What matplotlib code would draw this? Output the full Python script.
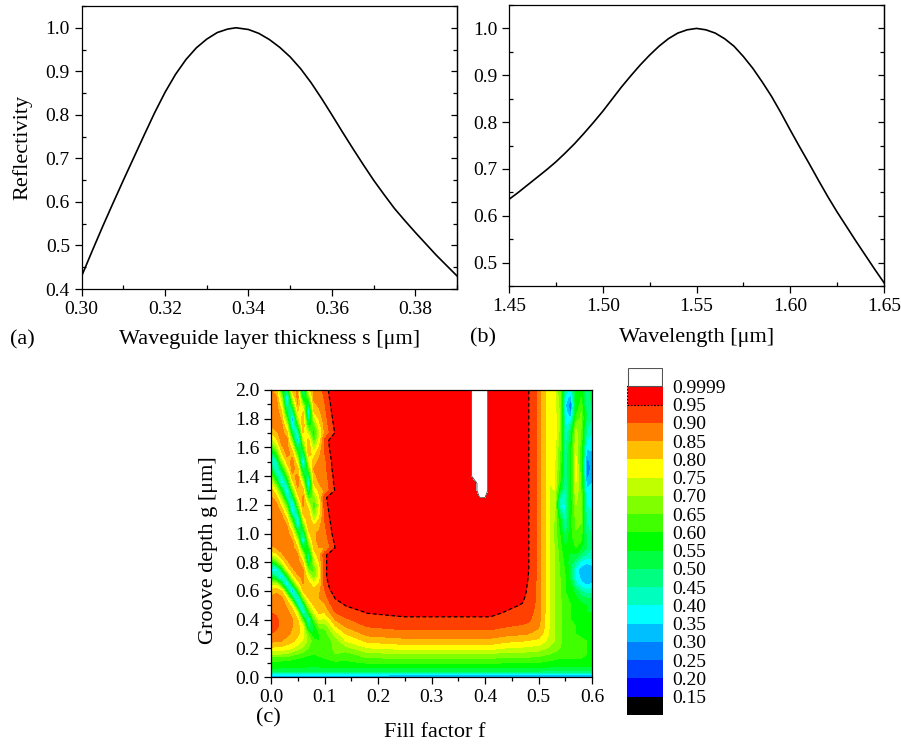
import numpy as np
import matplotlib
matplotlib.use("Agg")
import matplotlib.pyplot as plt
from matplotlib.ticker import MultipleLocator, FormatStrFormatter

plt.rcParams["font.family"] = ["Liberation Serif", "DejaVu Serif"]

# ─── (a) reflectivity vs waveguide layer thickness ─────────────
S_UM = [0.3000, 0.3025, 0.3050, 0.3075, 0.3100, 0.3125, 0.3150, 0.3175, 0.3200, 0.3225,
        0.3250, 0.3275, 0.3300, 0.3325, 0.3350, 0.3370, 0.3400, 0.3425, 0.3450, 0.3475,
        0.3500, 0.3525, 0.3550, 0.3575, 0.3600, 0.3625, 0.3650, 0.3675, 0.3700, 0.3725,
        0.3750, 0.3775, 0.3800, 0.3825, 0.3850, 0.3875, 0.3900]
R_S = [0.430, 0.487, 0.543, 0.597, 0.650, 0.702, 0.754, 0.805, 0.852, 0.893,
       0.927, 0.954, 0.974, 0.989, 0.997, 1.000, 0.996, 0.987, 0.973, 0.955,
       0.933, 0.906, 0.874, 0.838, 0.800, 0.761, 0.723, 0.686, 0.650, 0.617,
       0.585, 0.557, 0.530, 0.504, 0.478, 0.454, 0.430]

# ─── (b) reflectivity vs wavelength ────────────────────────────
WL_UM = [1.450, 1.455, 1.460, 1.465, 1.470, 1.475, 1.480, 1.485, 1.490, 1.495,
         1.500, 1.505, 1.510, 1.515, 1.520, 1.525, 1.530, 1.535, 1.540, 1.545,
         1.550, 1.555, 1.560, 1.565, 1.570, 1.575, 1.580, 1.585, 1.590, 1.595,
         1.600, 1.605, 1.610, 1.615, 1.620, 1.625, 1.630, 1.635, 1.640, 1.645, 1.650]
R_WL = [0.635, 0.650, 0.666, 0.682, 0.698, 0.715, 0.734, 0.754, 0.776, 0.799,
        0.823, 0.849, 0.875, 0.899, 0.922, 0.943, 0.962, 0.978, 0.990, 0.997,
        1.000, 0.997, 0.990, 0.978, 0.962, 0.940, 0.915, 0.886, 0.855, 0.820,
        0.783, 0.747, 0.712, 0.676, 0.641, 0.608, 0.577, 0.546, 0.516, 0.486, 0.457]

# ─── (c) reflectivity map: fill factor f x groove depth g ──────
G_UM = [0.00, 0.02, 0.04, 0.07, 0.10, 0.13, 0.16, 0.20, 0.25, 0.30,
        0.35, 0.40, 0.45, 0.50, 0.55, 0.60, 0.65, 0.70, 0.75, 0.80,
        0.85, 0.90, 0.95, 1.00, 1.05, 1.10, 1.15, 1.20, 1.25, 1.30,
        1.35, 1.40, 1.45, 1.50, 1.55, 1.60, 1.65, 1.70, 1.75, 1.80,
        1.85, 1.90, 1.95, 2.00]

# each entry: one f column, g = 0 .. 0.30 then g = 0.35 .. 2.00
F_LEFT = [0.00, 0.01, 0.02, 0.03, 0.04, 0.05, 0.06, 0.07, 0.08, 0.09, 0.10, 0.11, 0.12]
R_LEFT = [
    [0.31, 0.38, 0.52, 0.57, 0.59, 0.62, 0.70, 0.79, 0.86, 0.90]
    + [0.92, 0.92, 0.90, 0.88, 0.86, 0.82, 0.72, 0.55, 0.37, 0.55, 0.75, 0.84, 0.87, 0.88, 0.88, 0.88, 0.88,
       0.87, 0.86, 0.83, 0.76, 0.66, 0.55, 0.42, 0.45, 0.60, 0.72, 0.80, 0.85, 0.87, 0.87, 0.87, 0.87, 0.86],
    [0.31, 0.38, 0.51, 0.565, 0.59, 0.625, 0.70, 0.785, 0.855, 0.89]
    + [0.905, 0.905, 0.895, 0.88, 0.87, 0.84, 0.72, 0.45, 0.35, 0.62, 0.78, 0.85, 0.87, 0.88, 0.88, 0.88, 0.875,
       0.86, 0.82, 0.74, 0.62, 0.48, 0.37, 0.42, 0.58, 0.70, 0.78, 0.84, 0.87, 0.88, 0.88, 0.87, 0.85, 0.82],
    [0.31, 0.38, 0.50, 0.56, 0.585, 0.625, 0.70, 0.78, 0.85, 0.88]
    + [0.89, 0.89, 0.885, 0.875, 0.86, 0.80, 0.55, 0.30, 0.55, 0.74, 0.84, 0.87, 0.88, 0.88, 0.88, 0.87, 0.84,
       0.78, 0.68, 0.55, 0.36, 0.38, 0.55, 0.68, 0.78, 0.84, 0.87, 0.87, 0.86, 0.84, 0.80, 0.75, 0.68, 0.58],
    [0.31, 0.38, 0.50, 0.56, 0.58, 0.62, 0.69, 0.77, 0.83, 0.86]
    + [0.87, 0.87, 0.86, 0.84, 0.78, 0.55, 0.28, 0.55, 0.76, 0.84, 0.87, 0.88, 0.88, 0.87, 0.85, 0.80, 0.72,
       0.60, 0.42, 0.32, 0.48, 0.62, 0.74, 0.82, 0.86, 0.87, 0.86, 0.82, 0.74, 0.62, 0.50, 0.35, 0.32, 0.48],
    [0.31, 0.38, 0.50, 0.56, 0.58, 0.61, 0.67, 0.75, 0.81, 0.84]
    + [0.85, 0.85, 0.83, 0.77, 0.52, 0.28, 0.58, 0.76, 0.84, 0.87, 0.88, 0.87, 0.85, 0.80, 0.72, 0.58, 0.36,
       0.30, 0.48, 0.64, 0.76, 0.84, 0.87, 0.87, 0.84, 0.76, 0.64, 0.50, 0.35, 0.28, 0.45, 0.62, 0.74, 0.82],
    [0.31, 0.38, 0.50, 0.555, 0.575, 0.60, 0.65, 0.72, 0.78, 0.81]
    + [0.82, 0.80, 0.72, 0.45, 0.30, 0.58, 0.76, 0.84, 0.87, 0.87, 0.85, 0.80, 0.72, 0.58, 0.36, 0.32, 0.50,
       0.66, 0.77, 0.84, 0.87, 0.86, 0.82, 0.74, 0.62, 0.46, 0.28, 0.38, 0.56, 0.70, 0.80, 0.85, 0.87, 0.86],
    [0.31, 0.38, 0.50, 0.555, 0.57, 0.59, 0.63, 0.69, 0.74, 0.77]
    + [0.75, 0.62, 0.32, 0.45, 0.68, 0.80, 0.85, 0.86, 0.85, 0.80, 0.70, 0.52, 0.30, 0.45, 0.62, 0.74, 0.82,
       0.86, 0.86, 0.82, 0.74, 0.60, 0.44, 0.28, 0.44, 0.60, 0.72, 0.80, 0.85, 0.85, 0.80, 0.68, 0.50, 0.32],
    [0.31, 0.38, 0.50, 0.55, 0.565, 0.58, 0.61, 0.65, 0.68, 0.64]
    + [0.48, 0.38, 0.58, 0.72, 0.80, 0.83, 0.82, 0.76, 0.64, 0.48, 0.44, 0.58, 0.70, 0.78, 0.83, 0.85, 0.83,
       0.76, 0.62, 0.46, 0.32, 0.46, 0.62, 0.74, 0.82, 0.85, 0.82, 0.72, 0.58, 0.42, 0.33, 0.48, 0.64, 0.76],
    [0.31, 0.38, 0.50, 0.55, 0.565, 0.58, 0.60, 0.63, 0.62, 0.55]
    + [0.55, 0.64, 0.74, 0.80, 0.83, 0.82, 0.76, 0.66, 0.64, 0.70, 0.76, 0.81, 0.84, 0.84, 0.80, 0.72, 0.64,
       0.60, 0.66, 0.74, 0.80, 0.84, 0.85, 0.83, 0.78, 0.70, 0.62, 0.56, 0.62, 0.72, 0.80, 0.84, 0.86, 0.86],
    [0.31, 0.38, 0.50, 0.55, 0.57, 0.59, 0.61, 0.62, 0.60, 0.60]
    + [0.66, 0.75, 0.81, 0.84, 0.85, 0.84, 0.80, 0.76, 0.76, 0.80, 0.83, 0.85, 0.86, 0.86, 0.84, 0.80, 0.76,
       0.75, 0.78, 0.82, 0.85, 0.86, 0.86, 0.86, 0.84, 0.80, 0.76, 0.74, 0.77, 0.81, 0.84, 0.86, 0.87, 0.88],
    [0.31, 0.38, 0.50, 0.555, 0.575, 0.60, 0.62, 0.63, 0.62, 0.62]
    + [0.66, 0.74, 0.80, 0.84, 0.87, 0.895, 0.915, 0.93, 0.93, 0.93, 0.93, 0.85, 0.865, 0.88, 0.89, 0.90, 0.91,
       0.92, 0.93, 0.855, 0.865, 0.87, 0.88, 0.885, 0.895, 0.905, 0.91, 0.855, 0.865, 0.875, 0.885, 0.895, 0.905, 0.915],
    [0.31, 0.38, 0.50, 0.555, 0.58, 0.61, 0.63, 0.64, 0.64, 0.67]
    + [0.72, 0.79, 0.85, 0.89, 0.92, 0.945, 0.965, 0.98, 0.98, 0.98, 0.98, 0.90, 0.915, 0.93, 0.94, 0.95, 0.96,
       0.97, 0.98, 0.905, 0.915, 0.92, 0.93, 0.935, 0.945, 0.955, 0.96, 0.905, 0.915, 0.925, 0.935, 0.945, 0.955, 0.965],
    [0.31, 0.38, 0.50, 0.56, 0.59, 0.62, 0.65, 0.66, 0.67, 0.72]
    + [0.79, 0.85, 0.90, 0.93, 0.952, 0.97, 0.985, 0.985, 0.985, 0.985, 0.985, 0.952, 0.965, 0.98, 0.985, 0.985, 0.985,
       0.985, 0.985, 0.955, 0.965, 0.97, 0.98, 0.985, 0.985, 0.985, 0.985, 0.955, 0.965, 0.975, 0.985, 0.985, 0.985, 0.985],
]

F_MID = [0.14, 0.18, 0.25, 0.33, 0.37, 0.38, 0.39, 0.40, 0.41, 0.44]
MID_LOW = [0.30, 0.37, 0.50, 0.565, 0.61, 0.65, 0.695, 0.765, 0.83, 0.88,
           0.915, 0.945, 0.958, 0.966, 0.972, 0.977, 0.98, 0.985]
R_MID = [
    [0.31, 0.375, 0.50, 0.56, 0.59, 0.61, 0.63, 0.68, 0.75, 0.80,
     0.85, 0.89, 0.93, 0.952, 0.965, 0.975, 0.98, 0.985] + [0.988] * 26,
    [0.31, 0.37, 0.50, 0.565, 0.605, 0.645, 0.685, 0.745, 0.81, 0.865,
     0.90, 0.935, 0.952, 0.962, 0.97, 0.975, 0.98, 0.985] + [0.988] * 26,
    MID_LOW + [0.99] * 26,
    MID_LOW + [0.99] * 26,
    MID_LOW + [0.99] * 26,
    MID_LOW + [0.99] * 13 + [1.01] * 13,
    MID_LOW + [0.99] * 10 + [1.0] + [1.01] * 15,
    MID_LOW + [0.99] * 10 + [1.0] + [1.01] * 15,
    MID_LOW + [0.99] * 26,
    [0.30, 0.37, 0.50, 0.56, 0.60, 0.64, 0.68, 0.745, 0.81, 0.865,
     0.90, 0.93, 0.948, 0.957, 0.965, 0.97, 0.975, 0.978] + [0.98] * 26,
]

F_RIGHT = [0.47, 0.48, 0.49, 0.50, 0.51, 0.52, 0.53, 0.54, 0.55, 0.56, 0.57, 0.58, 0.59, 0.60]
R_RIGHT = [
    [0.30, 0.37, 0.50, 0.56, 0.60, 0.64, 0.68, 0.74, 0.80, 0.855]
    + [0.89, 0.92, 0.94, 0.948, 0.955, 0.962, 0.965, 0.968] + [0.97] * 26,
    [0.30, 0.37, 0.50, 0.56, 0.60, 0.64, 0.68, 0.735, 0.795, 0.85]
    + [0.885, 0.91, 0.925, 0.935, 0.942, 0.946, 0.948, 0.952] + [0.956] * 26,
    [0.30, 0.37, 0.50, 0.56, 0.60, 0.635, 0.675, 0.73, 0.79, 0.84]
    + [0.87, 0.89, 0.90, 0.91, 0.915, 0.92, 0.922, 0.924] + [0.925] * 26,
    [0.30, 0.37, 0.50, 0.56, 0.60, 0.635, 0.67, 0.73, 0.785, 0.83]
    + [0.855, 0.87, 0.875, 0.878] + [0.88] * 30,
    [0.30, 0.37, 0.49, 0.555, 0.59, 0.625, 0.66, 0.71, 0.76, 0.79]
    + [0.805, 0.81] + [0.815] * 32,
    [0.30, 0.37, 0.49, 0.55, 0.585, 0.62, 0.65, 0.69, 0.73, 0.745]
    + [0.75] * 34,
    [0.30, 0.37, 0.49, 0.55, 0.58, 0.61, 0.64, 0.67, 0.70, 0.70]
    + [0.70] * 12 + [0.69, 0.68, 0.68, 0.70, 0.72, 0.73, 0.74, 0.75, 0.76, 0.76, 0.76,
                     0.76, 0.76, 0.77, 0.78, 0.78, 0.78, 0.78, 0.77, 0.77, 0.76, 0.76],
    [0.30, 0.37, 0.49, 0.55, 0.58, 0.60, 0.63, 0.65, 0.66, 0.66]
    + [0.66] * 7 + [0.65, 0.65, 0.64]
    + [0.63, 0.62, 0.61, 0.60, 0.58, 0.55, 0.48, 0.40, 0.45, 0.55, 0.60, 0.62,
       0.63, 0.64, 0.65, 0.66, 0.67, 0.68, 0.70, 0.70, 0.69, 0.68, 0.67, 0.66],
    [0.30, 0.37, 0.49, 0.55, 0.58, 0.60, 0.62, 0.63, 0.63, 0.63]
    + [0.63, 0.62, 0.62, 0.62, 0.61, 0.60, 0.60, 0.60, 0.59, 0.58,
       0.57, 0.55, 0.52, 0.48, 0.45, 0.42, 0.40, 0.40, 0.41, 0.42,
       0.44, 0.45, 0.45, 0.45, 0.44, 0.42, 0.41, 0.40, 0.39, 0.38, 0.37, 0.36, 0.38, 0.42],
    [0.30, 0.37, 0.49, 0.55, 0.58, 0.60, 0.61, 0.62, 0.62, 0.61]
    + [0.61, 0.60, 0.60, 0.60, 0.59, 0.58, 0.55, 0.52, 0.52, 0.52,
       0.54, 0.57, 0.58, 0.58, 0.58, 0.58, 0.57, 0.56, 0.56, 0.56,
       0.56, 0.56, 0.56, 0.56, 0.56, 0.55, 0.53, 0.50, 0.45, 0.35, 0.28, 0.26, 0.32, 0.40],
    [0.30, 0.37, 0.49, 0.55, 0.58, 0.60, 0.61, 0.61, 0.61, 0.60]
    + [0.60, 0.60, 0.59, 0.59, 0.56, 0.52, 0.42, 0.38, 0.38, 0.45,
       0.54, 0.60, 0.62, 0.64, 0.66, 0.66, 0.68, 0.70, 0.72, 0.74,
       0.75, 0.76, 0.76, 0.76, 0.75, 0.74, 0.73, 0.72, 0.68, 0.62, 0.58, 0.55, 0.55, 0.56],
    [0.30, 0.37, 0.49, 0.55, 0.58, 0.60, 0.61, 0.61, 0.61, 0.59]
    + [0.58, 0.57, 0.56, 0.56, 0.52, 0.45, 0.36, 0.33, 0.32, 0.38,
       0.48, 0.55, 0.60, 0.62, 0.64, 0.66, 0.66, 0.66, 0.65, 0.64,
       0.63, 0.62, 0.61, 0.60, 0.61, 0.62, 0.63, 0.64, 0.65, 0.66, 0.65, 0.62, 0.60, 0.58],
    [0.30, 0.37, 0.49, 0.55, 0.58, 0.60, 0.60, 0.60, 0.60, 0.58]
    + [0.57, 0.56, 0.55, 0.55, 0.50, 0.42, 0.34, 0.31, 0.31, 0.36,
       0.44, 0.50, 0.50, 0.48, 0.46, 0.44, 0.42, 0.40, 0.38, 0.36,
       0.32, 0.28, 0.26, 0.27, 0.32, 0.36, 0.40, 0.44, 0.46, 0.48, 0.48, 0.47, 0.46, 0.45],
    [0.30, 0.37, 0.49, 0.55, 0.58, 0.60, 0.60, 0.60, 0.59, 0.58]
    + [0.57, 0.56, 0.55, 0.55, 0.50, 0.42, 0.35, 0.32, 0.32, 0.37,
       0.42, 0.45, 0.45, 0.44, 0.42, 0.41, 0.40, 0.38, 0.37, 0.36,
       0.35, 0.33, 0.32, 0.32, 0.34, 0.36, 0.38, 0.40, 0.42, 0.45, 0.47, 0.50, 0.52, 0.52],
]

LEVELS = [0.0, 0.15, 0.20, 0.25, 0.30, 0.35, 0.40, 0.45, 0.50, 0.55, 0.60, 0.65,
          0.70, 0.75, 0.80, 0.85, 0.90, 0.95, 0.9999, 1.1]
LEVEL_LABELS = ["0.15", "0.20", "0.25", "0.30", "0.35", "0.40", "0.45", "0.50", "0.55",
                "0.60", "0.65", "0.70", "0.75", "0.80", "0.85", "0.90", "0.95", "0.9999"]
COLORS = ["#000000", "#0000ff", "#0040ff", "#0080ff", "#00bfff", "#00ffff", "#00ffbf",
          "#00ff80", "#00ff40", "#00ff00", "#40ff00", "#80ff00", "#bfff00", "#ffff00",
          "#ffbf00", "#ff8000", "#ff4000", "#ff0000", "#ffffff"]

W, H = 901, 744


def box(x0, y0, x1, y1):
    # pixel box (top-left origin) -> figure fraction rect
    return [x0 / W, 1 - y1 / H, (x1 - x0) / W, (y1 - y0) / H]


def style_line_axes(ax, ymajor, yminor):
    # major ticks out, minor ticks in; right spine carries inward ticks
    ax.tick_params(which="both", labelsize=14, width=0.9, top=False, right=False)
    ax.tick_params(which="major", direction="out", length=5)
    ax.tick_params(which="minor", direction="in", length=3)
    sec = ax.secondary_yaxis("right")
    sec.yaxis.set_major_locator(MultipleLocator(ymajor))
    sec.yaxis.set_minor_locator(MultipleLocator(yminor))
    sec.tick_params(which="both", direction="in", labelright=False, width=0.9)
    sec.tick_params(which="major", length=4)
    sec.tick_params(which="minor", length=3)
    sec.spines["right"].set_linewidth(0.9)
    for sp in ax.spines.values():
        sp.set_linewidth(0.9)


fig = plt.figure(figsize=(W / 100, H / 100), dpi=100)

# (a)
ax1 = fig.add_axes(box(81.7, 6, 457, 289))
ax1.plot(S_UM, R_S, color="black", lw=1.2)
ax1.set_xlim(0.30, 0.39)
ax1.set_ylim(0.40, 1.05)
ax1.xaxis.set_major_locator(MultipleLocator(0.02))
ax1.xaxis.set_minor_locator(MultipleLocator(0.01))
ax1.xaxis.set_major_formatter(FormatStrFormatter("%.2f"))
ax1.yaxis.set_major_locator(MultipleLocator(0.1))
ax1.yaxis.set_minor_locator(MultipleLocator(0.05))
ax1.yaxis.set_major_formatter(FormatStrFormatter("%.1f"))
style_line_axes(ax1, 0.1, 0.05)
ax1.set_ylabel("Reflectivity", fontsize=16, va="center")
ax1.yaxis.set_label_coords(-0.159, 0.5)
ax1.set_xlabel("Waveguide layer thickness s [\u03bcm]", fontsize=16, va="center")
ax1.xaxis.set_label_coords(0.5, -0.18)

# (b)
ax2 = fig.add_axes(box(509, 5, 884, 286))
ax2.plot(WL_UM, R_WL, color="black", lw=1.2)
ax2.set_xlim(1.45, 1.65)
ax2.set_ylim(0.45, 1.05)
ax2.xaxis.set_major_locator(MultipleLocator(0.05))
ax2.xaxis.set_minor_locator(MultipleLocator(0.025))
ax2.xaxis.set_major_formatter(FormatStrFormatter("%.2f"))
ax2.yaxis.set_major_locator(MultipleLocator(0.1))
ax2.yaxis.set_minor_locator(MultipleLocator(0.05))
ax2.yaxis.set_major_formatter(FormatStrFormatter("%.1f"))
style_line_axes(ax2, 0.1, 0.05)
ax2.set_xlabel("Wavelength [\u03bcm]", fontsize=16, va="center")
ax2.xaxis.set_label_coords(0.5, -0.185)

# (c)
F = np.array(F_LEFT + F_MID + F_RIGHT)
G = np.array(G_UM)
Z = np.array(R_LEFT + R_MID + R_RIGHT).T
assert Z.shape == (len(G), len(F)), Z.shape

ax3 = fig.add_axes(box(271, 390, 592, 677))
ax3.contourf(F, G, Z, levels=LEVELS, colors=COLORS)
ax3.contour(F, G, Z, levels=[0.95], colors="black", linewidths=0.9,
            linestyles=[(0, (3, 2))])
ax3.contour(F, G, Z, levels=[0.9999], colors="#404040", linewidths=0.6)
ax3.set_xlim(0, 0.6)
ax3.set_ylim(0, 2.0)
ax3.xaxis.set_major_locator(MultipleLocator(0.1))
ax3.xaxis.set_minor_locator(MultipleLocator(0.05))
ax3.xaxis.set_major_formatter(FormatStrFormatter("%.1f"))
ax3.yaxis.set_major_locator(MultipleLocator(0.2))
ax3.yaxis.set_minor_locator(MultipleLocator(0.1))
ax3.yaxis.set_major_formatter(FormatStrFormatter("%.1f"))
ax3.tick_params(which="both", direction="out", labelsize=14, width=0.9)
ax3.tick_params(which="major", length=5)
ax3.tick_params(which="minor", length=3)
for sp in ax3.spines.values():
    sp.set_linewidth(0.9)
ax3.set_xlabel("Fill factor f", fontsize=16, va="center")
ax3.xaxis.set_label_coords(0.511, -0.195)
ax3.set_ylabel("Groove depth g [\u03bcm]", fontsize=16, va="center")
ax3.yaxis.set_label_coords(-0.196, 0.4425)

# colour scale drawn as stacked boxes
cax = fig.add_axes(box(627, 368, 663, 715))
for i, c in enumerate(COLORS):
    if c == "#ffffff":
        cax.bar(0.5, 0.96, bottom=i + 0.02, width=0.97, color=c, edgecolor="#555555", lw=0.8)
    elif c == "#ff0000":
        cax.bar(0.5, 1, bottom=i, width=1, color=c, edgecolor="black", lw=0.8,
                linestyle=(0, (1.5, 1.5)))
    else:
        cax.bar(0.5, 1, bottom=i, width=1, color=c, lw=0)
cax.set_xlim(0, 1)
cax.set_ylim(0, len(COLORS))
cax.set_xticks([])
cax.set_yticks(range(1, len(COLORS)))
cax.set_yticklabels(LEVEL_LABELS)
cax.yaxis.tick_right()
cax.tick_params(axis="y", length=0, pad=7, labelsize=14)
for sp in cax.spines.values():
    sp.set_visible(False)

fig.text(22 / W, 1 - 340 / H, "(a)", fontsize=16, ha="center", va="center")
fig.text(483 / W, 1 - 338 / H, "(b)", fontsize=16, ha="center", va="center")
fig.text(268 / W, 1 - 718 / H, "(c)", fontsize=16, ha="center", va="center")

fig.savefig("out.png", dpi=100)
